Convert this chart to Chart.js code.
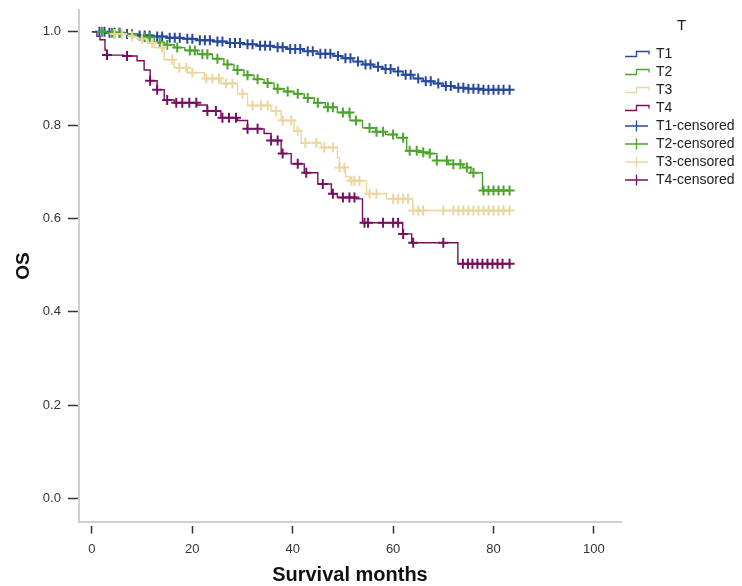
<!DOCTYPE html>
<html>
<head>
<meta charset="utf-8">
<script src="https://cdn.jsdelivr.net/npm/chart.js@4.4.1/dist/chart.umd.min.js"></script>
<style>
  html, body { margin: 0; padding: 0; background: #fff; }
</style>
</head>
<body>
<canvas id="km" width="742" height="586"></canvas>
<script>
// Kaplan-Meier steps: time (months) and survival after that step
const t1Time = [0, 3, 6, 9, 12, 15, 18, 21, 24, 27, 30, 33, 36, 39, 42, 45, 48, 50, 52, 54, 56, 58, 60, 62, 64, 66, 68, 70, 72, 75, 78, 83.4];
const t1Surv = [1, .998, .995, .992, .99, .987, .985, .982, .979, .976, .973, .970, .967, .963, .958, .953, .948, .943, .936, .930, .925, .920, .915, .908, .900, .894, .889, .884, .880, .878, .876, .876];

const t2Time = [0, 3, 7, 9.6, 12.4, 14.5, 16.4, 18.5, 21, 24, 26.3, 28.3, 30.3, 32.3, 34.3, 36.3, 38.3, 40.3, 42.3, 44.3, 46.5, 48.9, 51.4, 53.9, 56.5, 58.5, 60.7, 62.7, 65, 67.3, 68.7, 71, 73.9, 75.5, 77.8, 83.4];
const t2Surv = [1, .998, .995, .988, .977, .972, .966, .96, .952, .942, .93, .918, .907, .898, .89, .878, .872, .867, .858, .848, .838, .827, .81, .794, .786, .78, .773, .745, .742, .739, .724, .716, .709, .698, .66, .66];

const t3Time = [0, 4, 7, 9, 11, 12.4, 14.4, 16.4, 19, 22.4, 25.7, 29, 31, 35.7, 37.7, 40.3, 41.7, 45.7, 48.9, 49.3, 50.5, 51.3, 54.7, 58.7, 63.9, 83.4];
const t3Surv = [1, .995, .99, .985, .976, .966, .94, .923, .912, .90, .889, .867, .842, .83, .81, .788, .762, .752, .73, .709, .69, .681, .653, .642, .617, .617];

const t4Time = [0, 1, 1.6, 2.6, 3, 6.4, 9, 10.4, 11.6, 13, 14.4, 16.4, 21, 23, 25.7, 29, 31, 34.3, 35.7, 37.7, 39.7, 42.3, 45, 47.7, 48.9, 52.7, 53.9, 61.9, 63.7, 72.9, 83.4];
const t4Surv = [1, .99, .983, .961, .95, .948, .938, .918, .895, .876, .854, .848, .843, .83, .816, .81, .792, .782, .767, .739, .717, .698, .674, .653, .645, .642, .591, .567, .548, .503, .503];

// censoring times (months)
const t1Cens = [1.5, 2.5, 3.5, 4.5, 5.5, 7, 8, 9.5, 10.5, 11.5, 13, 14, 15.5, 16.5, 17.5, 19, 20, 21.5, 22.5, 23.5, 25, 26, 27.5, 28.5, 29.5, 31, 32, 33.5, 34.5, 35.5, 37, 38, 39.5, 40.5, 41.5, 43, 44, 45.5, 46.5, 47.5, 49, 50.5, 51.5, 53, 54.5, 55.5, 57, 58.5, 59.5, 61, 62.5, 63.5, 65, 66.5, 67.5, 69, 70.5, 71.5, 73, 74, 75, 76, 77, 78, 79, 80, 81, 82, 83.2];
const t2Cens = [2, 4, 5.5, 8, 10.5, 11.5, 13.5, 15, 17, 19.5, 20.5, 22, 23, 25, 27, 29, 31, 33, 35, 37, 39, 41, 43, 45, 47, 48, 50, 51.3, 52.6, 55.3, 56.7, 58, 60, 62, 63.3, 64.7, 66, 67.3, 68.7, 70.7, 72, 73.4, 74.7, 76, 78, 79, 80, 81, 82, 83.2];
const t3Cens = [4.5, 6, 8, 10, 12, 14, 16, 17.4, 18.8, 20, 22.8, 24, 25.3, 26.7, 28, 30, 32, 33.7, 35, 36.7, 38, 39.7, 41, 42.5, 44.7, 46.3, 48, 49.3, 50.3, 51.7, 52.3, 53.3, 55.3, 56.7, 60, 61, 62, 63, 64, 65, 66, 70, 72, 73, 74, 75, 76, 77, 78, 79, 80, 81, 82, 83.2];
const t4Cens = [3, 7, 11.6, 13, 15, 16.8, 18, 19.4, 20.8, 23, 24.7, 26, 27.3, 28.7, 31, 33, 35.7, 37, 38, 41, 42.7, 46, 48, 50, 51.3, 52.3, 54.3, 55, 58, 60, 61, 62, 64, 70, 73.9, 74.9, 75.8, 76.8, 77.8, 78.8, 79.8, 80.8, 81.8, 83.2];

const groupNames = ['T1', 'T2', 'T3', 'T4'];
const groupColors = ['#27499b', '#4da42c', '#ebd6a0', '#74105f'];
const xTicks = [0, 20, 40, 60, 80, 100];
const yTicks = [0, 0.2, 0.4, 0.6, 0.8, 1.0];

const times = [t1Time, t2Time, t3Time, t4Time];
const survs = [t1Surv, t2Surv, t3Surv, t4Surv];
const cens = [t1Cens, t2Cens, t3Cens, t4Cens];

function survAt(g, t) {
  let s = survs[g][0];
  for (let i = 0; i < times[g].length; i++) {
    if (times[g][i] <= t) s = survs[g][i];
  }
  return s;
}

function stepIcon(color) {
  const c = document.createElement('canvas');
  c.width = 26; c.height = 10;
  const ctx = c.getContext('2d');
  ctx.strokeStyle = color; ctx.lineWidth = 1.3;
  ctx.beginPath();
  ctx.moveTo(1, 7.5); ctx.lineTo(12.5, 7.5); ctx.lineTo(12.5, 2.5); ctx.lineTo(25, 2.5); ctx.lineTo(25, 5.5);
  ctx.stroke();
  return c;
}
function crossIcon(color) {
  const c = document.createElement('canvas');
  c.width = 26; c.height = 12;
  const ctx = c.getContext('2d');
  ctx.strokeStyle = color; ctx.lineWidth = 1.3;
  ctx.beginPath();
  ctx.moveTo(1, 6); ctx.lineTo(24, 6);
  ctx.moveTo(12.5, 0.5); ctx.lineTo(12.5, 11.5);
  ctx.stroke();
  return c;
}

const datasets = [];
groupNames.forEach((name, g) => {
  datasets.push({
    label: name,
    data: times[g].map((t, i) => ({ x: t, y: survs[g][i] })),
    borderColor: groupColors[g],
    borderWidth: 1.4,
    stepped: 'before',
    pointRadius: 0,
    fill: false,
    order: 2 + g
  });
});
groupNames.forEach((name, g) => {
  datasets.push({
    label: name + '-censored',
    data: cens[g].map(t => ({ x: t, y: survAt(g, t) })),
    showLine: false,
    pointStyle: 'cross',
    pointRadius: 5,
    pointBorderWidth: 2,
    borderColor: groupColors[g],
    backgroundColor: groupColors[g],
    order: -g
  });
});

const font = 'Liberation Sans, Arial, sans-serif';

new Chart(document.getElementById('km'), {
  type: 'line',
  data: { datasets },
  options: {
    responsive: false,
    animation: false,
    layout: { padding: { left: 12, top: 0, right: 0, bottom: 0 } },
    plugins: {
      tooltip: { enabled: false },
      legend: {
        position: 'right',
        align: 'start',
        maxWidth: 121,
        title: {
          display: true,
          text: 'T',
          color: '#222',
          font: { family: font, size: 15 },
          padding: { top: 18, bottom: 7 }
        },
        labels: {
          usePointStyle: true,
          pointStyleWidth: 24,
          padding: 4,
          color: '#222',
          font: { family: font, size: 14 },
          generateLabels: chart => chart.data.datasets.map((ds, i) => ({
            text: ds.label,
            datasetIndex: i,
            pointStyle: i < 4 ? stepIcon(groupColors[i]) : crossIcon(groupColors[i - 4]),
            fillStyle: 'transparent',
            strokeStyle: 'transparent',
            lineWidth: 0,
            fontColor: '#222',
            hidden: false
          }))
        }
      }
    },
    scales: {
      x: {
        type: 'linear',
        min: -2.6,
        max: 105.4,
        afterBuildTicks: axis => { axis.ticks = xTicks.map(v => ({ value: v })); },
        ticks: {
          color: '#333',
          font: { family: font, size: 13 },
          padding: 8,
          maxRotation: 0
        },
        grid: {
          drawOnChartArea: false,
          tickLength: 11,
          tickColor: '#333',
          tickWidth: 1.5,
          tickBorderDash: [0, 3, 8, 100]
        },
        border: { color: '#cfcfcf', width: 2 },
        title: {
          display: true,
          text: 'Survival months',
          color: '#111',
          font: { family: font, size: 20, weight: 'bold', lineHeight: 1.05 },
          padding: { top: 0, bottom: 0 }
        }
      },
      y: {
        min: -0.051,
        max: 1.047,
        afterBuildTicks: axis => { axis.ticks = yTicks.map(v => ({ value: v })); },
        ticks: {
          color: '#333',
          font: { family: font, size: 13 },
          padding: 2,
          callback: v => v.toFixed(1)
        },
        grid: {
          drawOnChartArea: false,
          tickLength: 16,
          tickColor: '#333',
          tickWidth: 1.5,
          tickBorderDash: [0, 5, 10, 100]
        },
        border: { color: '#cfcfcf', width: 2 },
        title: {
          display: true,
          text: 'OS',
          color: '#111',
          font: { family: font, size: 19, weight: 'bold' },
          padding: { top: 0, bottom: 6 }
        }
      }
    }
  }
});
</script>
</body>
</html>
